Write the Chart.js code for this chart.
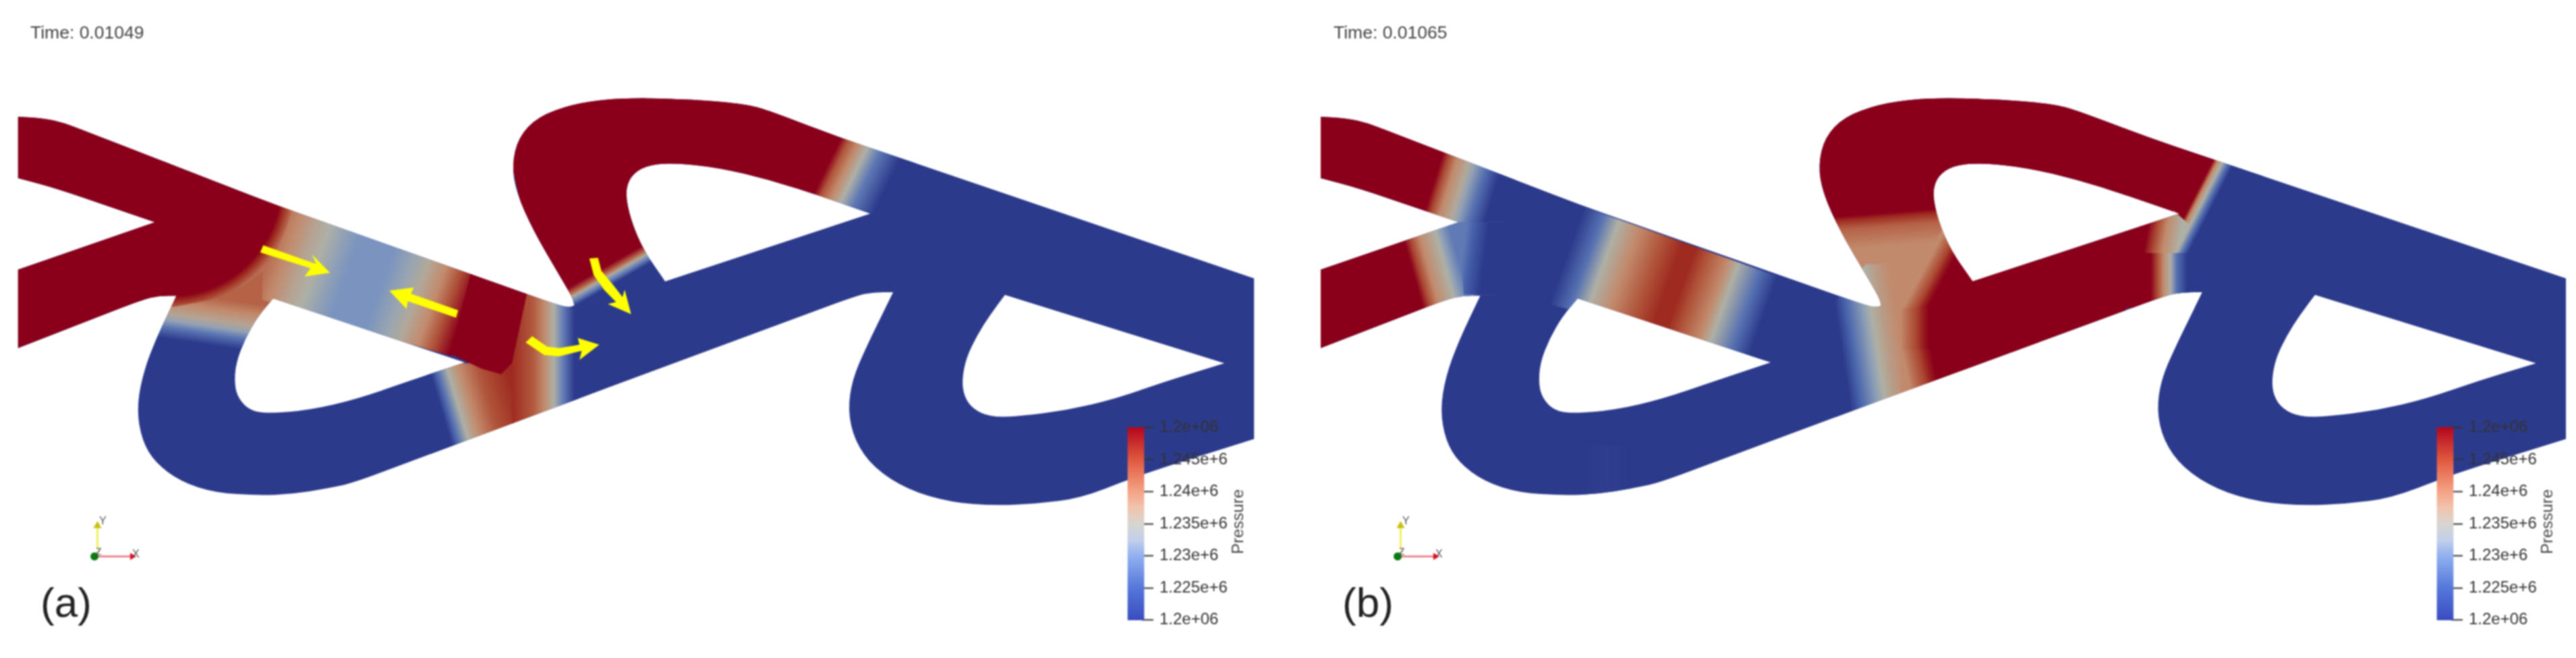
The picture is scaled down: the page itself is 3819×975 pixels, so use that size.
<!DOCTYPE html>
<html>
<head>
<meta charset="utf-8">
<title>Pressure</title>
<script src="https://cdn.jsdelivr.net/npm/chart.js@4"></script>
<style>
  html, body { margin: 0; padding: 0; background: #fff; }
  #page { position: relative; width: 3819px; height: 975px; overflow: hidden; background: #fff; filter: blur(0.9px); font-family: "Liberation Sans", Arial, sans-serif; }
  #page canvas { position: absolute; }
  .txt { position: absolute; white-space: nowrap; color: #333; }
</style>
</head>
<body>
<div id="page"></div>
<script>
// mesh outline (mesh units, same for both panels)
var meshOutline = [[42,105],[100,110],[150,128],[200,158],[640,425],[1300,790],[1325,797],[1335,790],[1330,760],[1300,680],[1240,520],[1200,380],[1190,280],[1205,180],[1250,105],[1330,60],[1411,42],[1472,38],[1511,38],[1641,45],[1741,62],[1791,85],[1951,180],[2915,692],[2915,1275],[2661,1400],[2511,1490],[2411,1510],[2311,1517],[2211,1505],[2111,1460],[2031,1380],[1986,1280],[1971,1170],[1981,1060],[2011,950],[2076,742],[2031,742],[1991,755],[1411,1090],[820,1435],[760,1455],[680,1475],[600,1480],[500,1470],[420,1430],[360,1360],[330,1280],[318,1170],[330,1050],[360,920],[410,755],[370,755],[330,770],[42,945],[42,660],[360,488],[130,365],[42,328]];
var hole1 = [[635,765],[1080,997],[950,1065],[830,1130],[720,1170],[620,1183],[580,1170],[555,1130],[545,1080],[548,1000],[570,910],[600,830]];
var hole2 = [[2023,457],[1911,395],[1791,335],[1671,290],[1561,272],[1501,283],[1466,320],[1453,380],[1466,480],[1496,590],[1546,703]];
var hole3 = [[2336,752],[2846,1000],[2711,1065],[2591,1130],[2481,1170],[2371,1193],[2301,1195],[2261,1165],[2241,1120],[2236,1060],[2246,980],[2271,900],[2301,825]];
var wholeMesh = [[0,0],[3000,0],[3000,1600],[0,1600]];

// colour map of the mesh
var meshPressure = [1.22e6,1.2265e6,1.231e6,1.235e6,1.2395e6,1.2435e6,1.2465e6,1.25e6];
var meshColors = ['#2c3a8c','#4a66ad','#7b94bf','#aeb0a6','#c28a6c','#b0543a','#9e2a20','#8a001b'];

// colour bar
var barTicks = [1.22e6,1.225e6,1.23e6,1.235e6,1.24e6,1.245e6,1.25e6];
var barLabels = ['1.2e+06','1.225e+6','1.23e+6','1.235e+6','1.24e+6','1.245e+6','1.2e+06'];
var barPressure = [1.22e6,1.225e6,1.23e6,1.2325e6,1.235e6,1.2375e6,1.24e6,1.245e6,1.25e6];
var barColors = ['#3a4cc0','#5577da','#92b0f0','#c3d0ea','#d8d5d0','#f1c4ae','#f5a385','#e0583e','#b2071f'];

// panel (a) pressure field
var aBranch = [[360,640],[660,640],[640,1010],[320,1010]];
var aBranchAxis = [[490,760],[462,1056]];
var aBranchAt = [0,.135,.27,.355,.44,.575];
var aBranchP = [1.2425e6,1.2395e6,1.2365e6,1.233e6,1.228e6,1.22e6];

var aChannel = [[610,400],[1100,670],[1050,975],[610,770]];
var aChannelAxis = [[600,590],[1100,870]];
var aChannelAt = [0,.12,.2,.26,.34,.4,.56,.66,.72,.8,.87,.94];
var aChannelP = [1.2435e6,1.2395e6,1.2365e6,1.235e6,1.2325e6,1.231e6,1.231e6,1.2335e6,1.236e6,1.2395e6,1.244e6,1.25e6];

var aFront = [[380,0],[700,420],[680,445],[665,510],[645,590],[615,660],[565,720],[490,770],[405,795],[380,795]];
var aFrontCentre = [394.5,352];
var aFrontRim = [684.5,352];
var aFrontAt = [.892,.93,1];
var aFrontP = [1.25e6,1.2465e6,1.2415e6];
var aInlet = [[0,0],[395,0],[395,770],[330,790],[0,1000]];

var aLowLeft = [[990,1000],[1195,1000],[1195,1300],[1000,1340]];
var aLowLeftAxis = [[1000,1170],[1200,1077]];
var aLowLeftAt = [.12,.2,.31,.45,.65,.95];
var aLowLeftP = [1.22e6,1.2275e6,1.235e6,1.2395e6,1.2435e6,1.2465e6];

var aLowRight = [[1190,740],[1345,780],[1345,1200],[1190,1300]];
var aLowRightAxis = [[1190,950],[1340,950]];
var aLowRightAt = [0,.33,.5,.65,.8,.97];
var aLowRightP = [1.2465e6,1.243e6,1.2395e6,1.235e6,1.2285e6,1.22e6];

var aBlock = [[1095,670],[1225,745],[1190,1000],[1165,1040],[1120,1020],[1045,965]];

var aLeg = [[1150,0],[1500,0],[1500,400],[1600,650],[1360,840],[1250,700]];
var aLegAxis = [[1410,647],[1432,707]];
var aLegAt = [0,.3,.5,.7,1];
var aLegP = [1.25e6,1.2425e6,1.236e6,1.23e6,1.22e6];

var aArm = [[1490,0],[2160,0],[2100,500],[1950,420],[1500,400]];
var aArmAxis = [[1926,275],[2056,374]];
var aArmAt = [0,.12,.28,.45,.65,1];
var aArmP = [1.25e6,1.2435e6,1.2395e6,1.235e6,1.2285e6,1.22e6];

// yellow arrows of panel (a)
var arrow1 = [[612,572],[735,640],[725,605],[767,672],[708,685],[722,655],[605,598]];
var arrow2 = [[905,737],[962,725],[955,748],[1065,808],[1060,835],[948,775],[945,803]];
var arrow3 = [[1370,620],[1390,617],[1398,665],[1425,715],[1447,760],[1452,733],[1467,822],[1413,785],[1432,778],[1405,735],[1380,680]];
var arrow4 = [[1237,902],[1272,940],[1300,945],[1347,933],[1343,908],[1393,933],[1347,988],[1352,955],[1300,975],[1265,970],[1222,925]];

// panel (b) pressure field
var bUpper = [[0,0],[496,300],[466,489],[0,489]];
var bUpperAxis = [[304,340],[437,405]];
var bUpperAt = [0,.1,.25,.45,.55,.75,1];
var bUpperP = [1.25e6,1.2445e6,1.2395e6,1.236e6,1.233e6,1.2275e6,1.22e6];

var bLower = [[0,489],[466,489],[446,750],[405,750],[330,775],[0,1000]];
var bLowerAxis = [[257,680],[396,618]];
var bLowerAt = [0,.1,.25,.52,.6,.75];
var bLowerP = [1.25e6,1.2445e6,1.2395e6,1.235e6,1.2325e6,1.2285e6];

var bLowerRim = [[361,489],[470,489],[450,750],[372,750]];
var bLowerRimAxis = [[367,630],[418,641]];
var bLowerRimAt = [0,.35,1];
var bLowerRimP = [1.2285e6,1.2255e6,1.22e6];

var bChannel = [[556,380],[1160,720],[1092,1000],[556,780]];
var bChannelAxis = [[614,590],[1110,870]];
var bChannelAt = [0,.09,.163,.26,.37,.46,.52,.58,.67,.72,.82,.9];
var bChannelP = [1.22e6,1.2275e6,1.235e6,1.2395e6,1.2435e6,1.2465e6,1.2465e6,1.2435e6,1.2395e6,1.235e6,1.2275e6,1.22e6];

var bFaint = [[645,1300],[760,1300],[760,1500],[645,1500]];
var bFaintAxis = [[645,1400],[760,1400]];
var bFaintAt = [0,.5,1];
var bFaintP = [1.22e6,1.2206e6,1.22e6];

var bTop = [[1150,0],[1560,0],[1560,1200],[1400,1200],[1400,800],[1335,785],[1150,600]];
var bTopAxis = [[1340,455],[1346,575]];
var bTopAt = [0,.12,.4,1];
var bTopP = [1.25e6,1.2465e6,1.2425e6,1.2395e6];

var bBand = [[1230,775],[1300,640],[1400,640],[1400,1200],[1230,1200]];
var bBandAxis = [[1244,950],[1453,900]];
var bBandAt = [0,.12,.3,.38,.5,.65];
var bBandP = [1.22e6,1.2265e6,1.2325e6,1.235e6,1.2375e6,1.2395e6];

// red front of the lower channel of panel (b), three pieces with the same pressures
var bCurveAt = [0,.2,.55,.78,1];
var bCurveP = [1.2395e6,1.2415e6,1.2445e6,1.2475e6,1.25e6];
var bCurveUp = [[1480,500],[1700,500],[1700,810],[1380,810]];
var bCurveUpAxis = [[1420,700],[1464,737]];
var bCurveMid = [[1380,800],[1700,800],[1700,960],[1380,960]];
var bCurveMidAxis = [[1380,900],[1446,900]];
var bCurveLow = [[1380,950],[1700,950],[1700,1200],[1380,1200]];
var bCurveLowAxis = [[1383,950],[1447,929]];
var bCore = [[1520,0],[1900,0],[1900,1200],[1520,1200]];

var bArmUp = [[1895,0],[2300,0],[2243,200],[2153,600],[1895,600]];
var bArmUpAxis = [[2060,390],[2101,423]];
var bArmUpAt = [0,.1,.21,.46,.73,1];
var bArmUpP = [1.25e6,1.2445e6,1.2395e6,1.235e6,1.2275e6,1.22e6];

var bWedge = [[1930,478],[2011,447],[2048,500],[2011,610],[1930,610]];
var bWedgeAxis = [[1947,540],[2023,562]];
var bWedgeAt = [0,.25,.55,1];
var bWedgeP = [1.25e6,1.2445e6,1.2395e6,1.235e6];

var bArmLow = [[1895,600],[2094,600],[2094,800],[1895,800]];
var bArmLowAxis = [[1957,650],[2041,650]];
var bArmLowAt = [0,.17,.35,.54,.72,1];
var bArmLowP = [1.25e6,1.2445e6,1.2395e6,1.235e6,1.2275e6,1.22e6];

// triad
var triadXAxis = [[0,0],[64,0]];
var triadYAxis = [[5,14],[5,54]];
var triadZAxis = [[0,0],[9,11]];

function hexToRgb(h) {
  return [parseInt(h.substr(1,2),16), parseInt(h.substr(3,2),16), parseInt(h.substr(5,2),16)];
}

function colorOf(p, knots, colors) {
  if (p <= knots[0]) return colors[0];
  for (var i = 1; i < knots.length; i++) {
    if (p <= knots[i]) {
      var f = (p - knots[i-1]) / (knots[i] - knots[i-1]);
      var a = hexToRgb(colors[i-1]), b = hexToRgb(colors[i]);
      return 'rgb(' + Math.round(a[0]+(b[0]-a[0])*f) + ',' + Math.round(a[1]+(b[1]-a[1])*f) + ',' + Math.round(a[2]+(b[2]-a[2])*f) + ')';
    }
  }
  return colors[colors.length-1];
}

function toXY(list) {
  return list.map(function (p) { return {x: p[0], y: p[1]}; });
}

// closed path through the listed points, sharp turns stay sharp, the others get rounded
function tracePoly(chart, list) {
  var c = chart.ctx, sx = chart.scales.x, sy = chart.scales.y;
  var pts = list.map(function (p) { return [sx.getPixelForValue(p[0]), sy.getPixelForValue(p[1])]; });
  var n = pts.length;
  pts.forEach(function (p, i) {
    var a = pts[(i + n - 1) % n], b = pts[(i + 1) % n];
    var ax = p[0] - a[0], ay = p[1] - a[1], bx = b[0] - p[0], by = b[1] - p[1];
    var la = Math.hypot(ax, ay), lb = Math.hypot(bx, by);
    var turn = Math.acos(Math.max(-1, Math.min(1, (ax*bx + ay*by) / (la*lb))));
    if (turn > 0.85) {
      if (i === 0) c.moveTo(p[0], p[1]); else c.lineTo(p[0], p[1]);
    } else {
      var r1 = Math.min(la / 2, 40), r2 = Math.min(lb / 2, 40);
      var sxp = p[0] - ax / la * r1, syp = p[1] - ay / la * r1;
      if (i === 0) c.moveTo(sxp, syp); else c.lineTo(sxp, syp);
      c.quadraticCurveTo(p[0], p[1], p[0] + bx / lb * r2, p[1] + by / lb * r2);
    }
  });
  c.closePath();
}

// everything is painted inside the mesh only
var meshClip = {
  id: 'meshClip',
  beforeDatasetsDraw: function (chart) {
    var c = chart.ctx;
    c.save();
    c.beginPath();
    tracePoly(chart, meshOutline);
    tracePoly(chart, hole1);
    tracePoly(chart, hole2);
    tracePoly(chart, hole3);
    c.clip('evenodd');
  },
  afterDatasetsDraw: function (chart) {
    chart.ctx.restore();
  }
};

function fieldSet(points, axis, at, pressure, radial) {
  return {
    data: toXY(points),
    showLine: true,
    fill: 'shape',
    borderWidth: 0,
    borderDash: [1],
    pointRadius: 0,
    backgroundColor: function (ctx) {
      var chart = ctx.chart;
      if (!chart.chartArea) return colorOf(pressure[0], meshPressure, meshColors);
      var sx = chart.scales.x, sy = chart.scales.y;
      var x0 = sx.getPixelForValue(axis[0][0]), y0 = sy.getPixelForValue(axis[0][1]);
      var x1 = sx.getPixelForValue(axis[1][0]), y1 = sy.getPixelForValue(axis[1][1]);
      var g = radial
        ? chart.ctx.createRadialGradient(x0, y0, 0, x0, y0, Math.hypot(x1 - x0, y1 - y0))
        : chart.ctx.createLinearGradient(x0, y0, x1, y1);
      at.forEach(function (t, i) { g.addColorStop(t, colorOf(pressure[i], meshPressure, meshColors)); });
      return g;
    }
  };
}

function flatSet(points, color) {
  return { data: toXY(points), showLine: true, fill: 'shape', borderWidth: 0, borderDash: [1], pointRadius: 0, backgroundColor: color };
}

function flatP(points, p) {
  return flatSet(points, colorOf(p, meshPressure, meshColors));
}

var panelASets = [
  flatP(wholeMesh, 1.22e6),
  fieldSet(aBranch, aBranchAxis, aBranchAt, aBranchP),
  fieldSet(aChannel, aChannelAxis, aChannelAt, aChannelP),
  fieldSet(aFront, [aFrontCentre, aFrontRim], aFrontAt, aFrontP, true),
  flatP(aInlet, 1.25e6),
  fieldSet(aLowLeft, aLowLeftAxis, aLowLeftAt, aLowLeftP),
  fieldSet(aLowRight, aLowRightAxis, aLowRightAt, aLowRightP),
  flatP(aBlock, 1.25e6),
  fieldSet(aLeg, aLegAxis, aLegAt, aLegP),
  fieldSet(aArm, aArmAxis, aArmAt, aArmP),
  flatSet(arrow1, '#ffff00'),
  flatSet(arrow2, '#ffff00'),
  flatSet(arrow3, '#ffff00'),
  flatSet(arrow4, '#ffff00')
];

var panelBSets = [
  flatP(wholeMesh, 1.22e6),
  fieldSet(bUpper, bUpperAxis, bUpperAt, bUpperP),
  fieldSet(bLower, bLowerAxis, bLowerAt, bLowerP),
  fieldSet(bLowerRim, bLowerRimAxis, bLowerRimAt, bLowerRimP),
  fieldSet(bChannel, bChannelAxis, bChannelAt, bChannelP),
  fieldSet(bFaint, bFaintAxis, bFaintAt, bFaintP),
  fieldSet(bTop, bTopAxis, bTopAt, bTopP),
  fieldSet(bBand, bBandAxis, bBandAt, bBandP),
  fieldSet(bCurveUp, bCurveUpAxis, bCurveAt, bCurveP),
  fieldSet(bCurveMid, bCurveMidAxis, bCurveAt, bCurveP),
  fieldSet(bCurveLow, bCurveLowAxis, bCurveAt, bCurveP),
  flatP(bCore, 1.25e6),
  fieldSet(bArmUp, bArmUpAxis, bArmUpAt, bArmUpP),
  fieldSet(bWedge, bWedgeAxis, bWedgeAt, bWedgeP),
  fieldSet(bArmLow, bArmLowAxis, bArmLowAt, bArmLowP)
];

var page = document.getElementById('page');

function addCanvas(left, top, w, h) {
  var cv = document.createElement('canvas');
  cv.width = w; cv.height = h;
  cv.style.left = left + 'px'; cv.style.top = top + 'px';
  cv.style.width = w + 'px'; cv.style.height = h + 'px';
  page.appendChild(cv);
  return cv;
}

function addText(str, left, top, size, color, extra) {
  var d = document.createElement('div');
  d.className = 'txt';
  d.textContent = str;
  d.style.left = left + 'px';
  d.style.top = top + 'px';
  d.style.fontSize = size + 'px';
  d.style.lineHeight = size + 'px';
  if (color) d.style.color = color;
  if (extra) d.style.transform = extra;
  page.appendChild(d);
  return d;
}

function meshChart(left, w, sets) {
  // 1 px = 1.568 mesh units in x of panel (a) and 2.45 in y
  // chart.js paints the first dataset last, so the list goes in reversed
  return new Chart(addCanvas(left, 0, w, 975), {
    type: 'scatter',
    data: { datasets: sets.slice().reverse() },
    options: {
      responsive: false,
      animation: false,
      layout: { padding: 0 },
      plugins: { legend: { display: false }, tooltip: { enabled: false }, title: { display: false } },
      scales: {
        x: { type: 'linear', display: false, min: 0, max: 2932 },
        y: { type: 'linear', display: false, reverse: true, min: -318.5, max: 2070 }
      }
    },
    plugins: [meshClip]
  });
}

function barChart(left) {
  new Chart(addCanvas(left, 610, 170, 332), {
    type: 'bar',
    data: { datasets: [{
      data: [{x: 12, y: [barTicks[0], barTicks[barTicks.length-1]]}],
      barThickness: 24,
      clip: false,
      backgroundColor: function (ctx) {
        var chart = ctx.chart;
        if (!chart.chartArea) return barColors[0];
        var sy = chart.scales.y;
        var g = chart.ctx.createLinearGradient(0, sy.getPixelForValue(barTicks[0]), 0, sy.getPixelForValue(barTicks[barTicks.length-1]));
        barPressure.forEach(function (p, i) {
          g.addColorStop((p - barTicks[0]) / (barTicks[barTicks.length-1] - barTicks[0]), barColors[i]);
        });
        return g;
      }
    }] },
    options: {
      responsive: false,
      animation: false,
      layout: { padding: { left: 13, top: 15, bottom: 15, right: 0 } },
      plugins: { legend: { display: false }, tooltip: { enabled: false } },
      scales: {
        x: { type: 'linear', display: false, min: 0, max: 20 },
        y: {
          position: 'right',
          min: barTicks[0],
          max: barTicks[barTicks.length-1],
          afterFit: function (s) { s.width = 137; },
          afterBuildTicks: function (s) { s.ticks = barTicks.map(function (v) { return {value: v}; }); },
          border: { display: false },
          grid: { drawOnChartArea: false, tickLength: 17, tickColor: '#333', tickWidth: 2 },
          ticks: {
            autoSkip: false,
            padding: 9,
            color: '#333',
            font: { family: '"Liberation Sans", Arial, sans-serif', size: 24 },
            callback: function (v) { return barLabels[barTicks.indexOf(v)]; }
          }
        }
      }
    }
  });
}

function triadChart(left) {
  new Chart(addCanvas(left, 755, 110, 90), {
    type: 'scatter',
    data: { datasets: [
      { data: [{x: 0, y: 0}], pointRadius: 6, backgroundColor: '#0a7a12', pointBorderWidth: 0 },
      { data: toXY(triadXAxis), showLine: true, borderColor: '#e8505a', borderWidth: 2, pointRadius: [0, 6], pointStyle: 'triangle', pointRotation: 90, backgroundColor: '#e0101c', pointBorderWidth: 0 },
      { data: toXY(triadYAxis), showLine: true, borderColor: '#f2ee60', borderWidth: 3, pointRadius: [0, 7], pointStyle: 'triangle', backgroundColor: '#c8c010', pointBorderWidth: 0 },
      { data: toXY(triadZAxis), showLine: true, borderColor: '#b8a030', borderWidth: 2, pointRadius: 0 }
    ] },
    options: {
      responsive: false,
      animation: false,
      layout: { padding: 0 },
      plugins: { legend: { display: false }, tooltip: { enabled: false } },
      scales: {
        x: { type: 'linear', display: false, min: -15, max: 95 },
        y: { type: 'linear', display: false, min: -16, max: 74 }
      }
    }
  });
}

meshChart(0, 1870, panelASets);
meshChart(1931, 1884, panelBSets);

[{bar: 1660, press: 1837, triad: 120, time: 45, tag: 60, t: 'Time: 0.01049', l: '(a)'},
 {bar: 3601, press: 3778, triad: 2052, time: 1977, tag: 1990, t: 'Time: 0.01065', l: '(b)'}].forEach(function (p) {
  barChart(p.bar);
  triadChart(p.triad);
  addText(p.t, p.time, 35, 26.5, '#444');
  addText(p.l, p.tag, 862, 62, '#222');
  addText('Pressure', p.press - 50, 761, 24, '#444', 'rotate(-90deg)');
  addText('Y', p.triad + 27, 764, 16, '#555');
  addText('Z', p.triad + 22, 810, 14, '#555');
  addText('X', p.triad + 76, 813, 16, '#555');
});
</script>
</body>
</html>
